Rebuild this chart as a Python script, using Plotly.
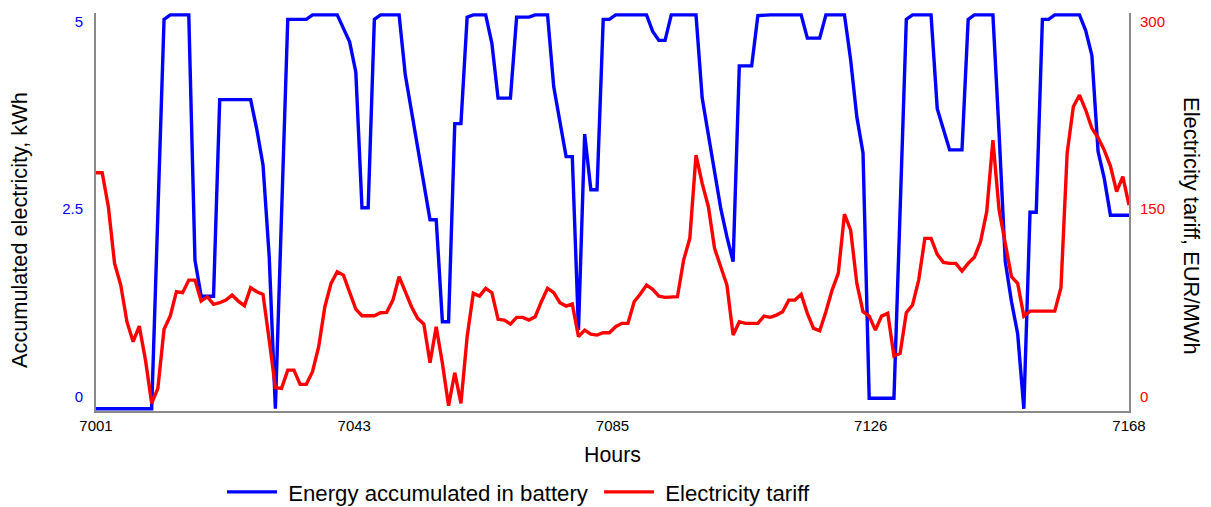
import plotly.graph_objects as go

hours = list(range(7001, 7169))

battery_kwh = [
    -0.16, -0.16, -0.16, -0.16, -0.16, -0.16, -0.16, -0.16, -0.16, -0.16,
    2.44, 5.03, 5.09, 5.09, 5.09, 5.09, 1.82, 1.34, 1.34, 1.34,
    3.96, 3.96, 3.96, 3.96, 3.96, 3.96, 3.56, 3.09, 1.87, -0.16,
    2.44, 5.03, 5.03, 5.03, 5.03, 5.09, 5.09, 5.09, 5.09, 5.09,
    4.91, 4.73, 4.33, 2.52, 2.52, 5.03, 5.09, 5.09, 5.09, 5.09,
    4.29, 3.81, 3.32, 2.83, 2.36, 2.36, 1.00, 1.00, 3.64, 3.64,
    5.06, 5.09, 5.09, 5.09, 4.71, 3.98, 3.98, 3.98, 5.06, 5.06,
    5.06, 5.09, 5.09, 5.09, 4.13, 3.69, 3.20, 3.20, 0.89, 3.50,
    2.76, 2.76, 5.03, 5.03, 5.09, 5.09, 5.09, 5.09, 5.09, 5.09,
    4.87, 4.75, 4.75, 5.09, 5.09, 5.09, 5.09, 5.09, 3.98, 3.47,
    2.98, 2.51, 2.13, 1.80, 4.41, 4.41, 4.41, 5.08, 5.09, 5.09,
    5.09, 5.09, 5.09, 5.09, 5.09, 4.78, 4.78, 4.78, 5.09, 5.09,
    5.09, 5.09, 4.49, 3.73, 3.25, -0.02, -0.02, -0.02, -0.02, -0.02,
    2.49, 5.03, 5.09, 5.09, 5.09, 5.09, 3.84, 3.58, 3.29, 3.29,
    3.29, 5.03, 5.09, 5.09, 5.09, 5.09, 3.51, 1.80, 1.27, 0.84,
    -0.16, 2.46, 2.46, 5.03, 5.03, 5.09, 5.09, 5.09, 5.09, 5.09,
    4.88, 4.55, 3.27, 2.91, 2.42, 2.42, 2.42, 2.42,
]

tariff_eur_mwh = [
    179.2, 179.2, 152.0, 106.7, 89.3, 60.0, 44.0, 56.5, 29.3, -5.3,
    6.7, 53.9, 64.5, 84.0, 83.2, 93.3, 93.3, 76.5, 80.0, 73.9,
    75.2, 77.3, 81.3, 76.5, 72.8, 87.2, 84.0, 81.9, 45.3, 7.2,
    6.7, 21.3, 21.3, 9.9, 9.9, 20.0, 40.0, 72.0, 90.7, 100.0,
    97.3, 82.7, 70.1, 64.8, 64.5, 64.8, 67.2, 67.5, 77.3, 96.0,
    84.0, 72.0, 62.7, 58.1, 27.2, 56.0, 26.7, -7.2, 19.2, -5.3,
    48.0, 82.7, 80.5, 86.7, 83.2, 61.9, 61.3, 58.1, 63.5, 63.5,
    61.3, 64.0, 76.0, 86.7, 83.2, 75.2, 72.5, 74.1, 48.0, 53.3,
    50.1, 49.3, 51.2, 51.2, 56.0, 58.7, 58.7, 76.0, 82.1, 89.3,
    85.9, 80.5, 79.5, 80.0, 80.0, 109.3, 126.7, 193.3, 170.7, 152.0,
    118.7, 104.0, 89.3, 49.3, 60.0, 58.7, 58.7, 58.7, 64.5, 63.5,
    65.3, 68.0, 77.3, 77.3, 81.9, 66.7, 54.7, 52.8, 68.0, 85.3,
    98.7, 146.1, 133.3, 90.7, 68.0, 64.5, 53.3, 64.5, 66.7, 32.5,
    34.7, 67.2, 73.3, 93.3, 126.7, 126.7, 113.9, 107.5, 106.7, 106.7,
    100.5, 106.7, 111.5, 124.0, 148.0, 205.3, 149.3, 122.7, 96.0, 90.7,
    64.5, 68.5, 68.5, 68.5, 68.5, 68.5, 87.2, 194.7, 232.0, 241.3,
    229.3, 214.7, 207.2, 197.3, 184.5, 164.0, 176.0, 153.3,
]

x_tick_labels = ["7001", "7043", "7085", "7126", "7168"]
left_ticks = [0, 2.5, 5]
left_tick_labels = ["0", "2.5", "5"]
right_ticks = [0, 150, 300]
right_tick_labels = ["0", "150", "300"]

FONT = "Liberation Sans, Arial, sans-serif"
GRAY = "#8a8a8a"
NB = "\u00a0"

fig = go.Figure()
fig.add_trace(go.Scatter(
    x=hours, y=battery_kwh, mode="lines",
    name=NB + "Energy accumulated in battery" + NB,
    line=dict(color="#0000ff", width=3.4), yaxis="y"))
fig.add_trace(go.Scatter(
    x=hours, y=tariff_eur_mwh, mode="lines",
    name=NB + "Electricity tariff",
    line=dict(color="#ff0000", width=3.4), yaxis="y2"))

x0, x1 = hours[0], hours[-1]
x_tickvals = [x0 + k * (x1 - x0) / 4 for k in range(5)]

fig.update_layout(
    width=1211, height=520,
    margin=dict(l=88, r=90, t=5, b=117),
    paper_bgcolor="white", plot_bgcolor="white",
    font=dict(family=FONT, size=15, color="black"),
    showlegend=True,
    legend=dict(orientation="h", x=0.122, xanchor="left", y=-0.2035, yanchor="middle",
                font=dict(size=22.2, color="black"), itemwidth=50,
                bgcolor="rgba(0,0,0,0)", tracegroupgap=0),
    xaxis=dict(range=[x0, x1], tickvals=x_tickvals, ticktext=x_tick_labels,
               showgrid=False, zeroline=False, showline=True, linecolor=GRAY, linewidth=2,
               ticks="", tickfont=dict(size=15, color="black"),
               title=dict(text="Hours", font=dict(size=21.3, color="black"), standoff=14)),
    yaxis=dict(range=[-0.19, 5.115], tickvals=left_ticks, ticktext=left_tick_labels,
               showgrid=False, zeroline=False, showline=True, linecolor=GRAY, linewidth=2,
               ticks="", tickfont=dict(size=15, color="#0000ff"), ticklabelstandoff=8),
    yaxis2=dict(range=[-11.44, 306.96], tickvals=right_ticks, ticktext=right_tick_labels,
                overlaying="y", side="right",
                showgrid=False, zeroline=False, showline=True, linecolor=GRAY, linewidth=2,
                ticks="", tickfont=dict(size=15, color="#ff0000"), ticklabelstandoff=6),
    annotations=[
        dict(text="Accumulated electricity, kWh", xref="paper", yref="paper",
             x=-0.0736, y=0.455, xanchor="center", yanchor="middle", textangle=-90,
             showarrow=False, font=dict(size=21.7, color="black")),
        dict(text="Electricity tariff, EUR/MWh", xref="paper", yref="paper",
             x=1.061, y=0.467, xanchor="center", yanchor="middle", textangle=90,
             showarrow=False, font=dict(size=21.9, color="black")),
    ],
)

fig.write_html("out.html")
